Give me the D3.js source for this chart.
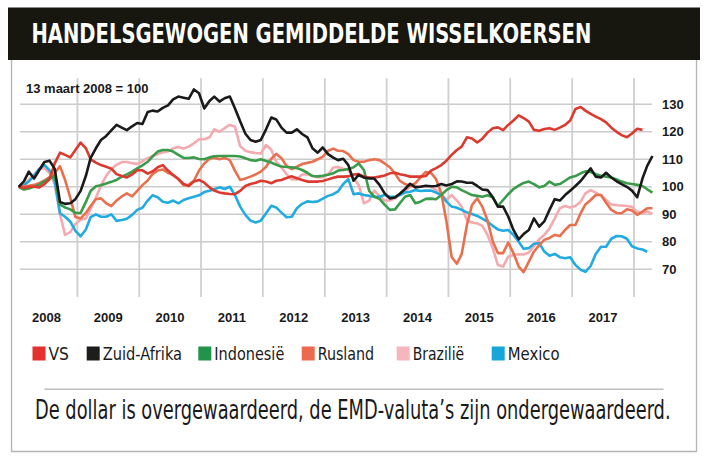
<!DOCTYPE html>
<html>
<head>
<meta charset="utf-8">
<script src="https://cdn.jsdelivr.net/npm/d3@7"></script>
<style>
  html, body { margin: 0; padding: 0; background: #fff; }
  svg { display: block; }
  .narrow { font-family: "Liberation Sans Narrow", "DejaVu Sans Condensed", "Roboto Condensed", sans-serif; }
  .bold { font-family: "Liberation Sans", Arial, sans-serif; font-weight: bold; }
</style>
</head>
<body>
<svg id="chart" width="707" height="463"></svg>
<script>
// Handelsgewogen wisselkoersen, index 13 maart 2008 = 100, maandelijkse waarden
var startMonth = new Date(2008, 0, 20);

var seriesNames = ['VS', 'Zuid-Afrika', 'Indonesië', 'Rusland', 'Brazilië', 'Mexico'];
var years = [2008, 2009, 2010, 2011, 2012, 2013, 2014, 2015, 2016, 2017];
var yTicks = [70, 80, 90, 100, 110, 120, 130];

var vs = [100, 99.6, 100, 100, 99.8, 101, 102.7, 108.5, 112.4, 111.6, 110.7, 113.4, 116.1, 114, 110, 108.8, 107.9, 107.3, 106.6, 104.6,
  103.9, 103.4, 104.5, 106, 106, 104.8, 105.6, 107.1, 107.9, 105.9, 104.3, 102.8, 101, 100.3, 101.9, 102.5, 101.5, 99.8, 98.6, 97.9,
  97.6, 97.4, 97.3, 98.5, 100.3, 101, 101.5, 102.2, 101.9, 101.3, 102.2, 102.5, 103.2, 103.8, 103.1, 102.5, 101.9, 101.9, 101.9, 102.1,
  102.7, 103.3, 103.7, 103.7, 103.8, 104.5, 104.6, 103.7, 103.4, 103.4, 103.7, 104.1, 104.9, 105.1, 104.6, 104.2, 103.7, 103.7, 103.7, 103.9,
  105.9, 106.8, 107.9, 109.5, 111.6, 113.4, 114.6, 118, 117.6, 116.1, 117.5, 119.7, 121.3, 121.6, 120.6, 122.5, 124.1, 126, 125, 123.7,
  120.7, 120.4, 121, 121.3, 120.7, 121.5, 122.5, 124.1, 128.3, 129, 127.7, 126.5, 125.5, 124.6, 123.4, 121.5, 120, 118.8, 118, 119.4,
  121.1, 120.7, null, null];

var zuidAfrika = [100, 102, 105.5, 103, 106, 109, 109.5, 106.5, 94.5, 93.8, 94, 95.5, 98.5, 104, 110.5, 114, 117, 118.5, 120.5, 122.5,
  121.5, 120.6, 122, 123.2, 122.8, 127.2, 127.7, 127.4, 128.7, 129.6, 131.8, 132.8, 132.4, 132, 135.4, 134, 128.5, 131.2, 132.8, 131,
  132.2, 132.8, 128.6, 123.8, 119.3, 117, 116.4, 117, 120.9, 125.2, 124.5, 121.5, 119.7, 119.7, 120.9, 119.2, 118, 114, 112.4, 114.3,
  111.9, 110.6, 109.7, 110.2, 107.9, 102.2, 104.3, 103.4, 103, 103, 100.7, 97.6, 95.8, 96.1, 97.5, 99.2, 101.1, 99.8, 100, 100.4,
  100.2, 100.3, 101, 100.5, 101, 102, 101.9, 101.5, 101.5, 100.3, 99, 98.8, 96.2, 92.8, 92.8, 89.2, 84.3, 80.9, 82.8, 84.3,
  88.5, 85.5, 87.4, 91.6, 95.5, 95, 97, 98.6, 100.3, 102.1, 104.3, 106.7, 103.7, 103.4, 105.1, 103.4, 102, 101, 100, 98.6,
  96.2, 103, 107.6, 111.2];

var indonesie = [100, 99, 99.4, 100, 100.8, 102, 103, 104, 93.5, 92.5, 91.8, 90.5, 90.5, 94.5, 98.5, 100.2, 100.6, 101.2, 101.8, 102.5,
  103.7, 104.5, 105.5, 106.7, 107.8, 109.1, 111, 112.8, 113.4, 113.4, 112.8, 111.6, 110.5, 110.5, 110.7, 110.1, 110, 110.7, 111.1, 111.2,
  111.2, 111.2, 111.2, 111, 110.4, 109.7, 109.5, 110, 109.4, 108.8, 108, 107.4, 107.2, 107.1, 106.8, 106.1, 105.1, 103.9, 103.8, 104,
  104.4, 104.9, 105.9, 106.1, 106.5, 107.1, 108.5, 106.1, 98.5, 96.4, 95.6, 93.5, 91.6, 91.8, 94, 96.4, 97, 94, 94.6, 95.6,
  95.7, 95.5, 97, 98.8, 100, 99.8, 98.8, 97.9, 97, 96.7, 96.4, 96.9, 96.2, 93, 95.2, 97.3, 99.2, 100.4, 101.4, 101.9,
  101, 99.8, 100.3, 101.9, 100.7, 101, 102.2, 103.4, 103.9, 104.9, 105.6, 105.4, 104.6, 104, 103.7, 103.4, 102.7, 101.9, 101.3, 101,
  100.7, 100.3, 99.1, 97.9];

var rusland = [100, 100.2, 100.4, 100.7, 101.3, 102.3, 103.5, 105, 107.5, 102.5, 96, 89, 88.5, 90.5, 93, 95.5, 95.8, 94, 93, 95,
  96.5, 97.6, 96.5, 98.5, 100.6, 102.3, 104.6, 105.9, 106.3, 105.1, 104.3, 102.8, 100.6, 100.7, 102.2, 105.9, 108.5, 110.2, 110.6, 110,
  110.5, 109.7, 105.9, 102.5, 103, 103.7, 104.5, 105.5, 107.3, 110.2, 112, 110.4, 107.6, 106.4, 107.3, 108.3, 108.7, 109.1, 110, 111,
  113.1, 113.9, 113.1, 113, 111.9, 109.7, 109.1, 109.1, 109.7, 110, 109.7, 108.5, 107.1, 104.8, 102.2, 101, 100.3, 101.3, 103.4, 105.4,
  105.1, 102.8, 97.6, 87.5, 74.5, 72, 75.5, 86, 93.4, 95.8, 92.8, 87.7, 80.1, 75.9, 75.9, 79.7, 75.9, 71, 69, 72.8,
  76.4, 78.8, 80.7, 81.4, 82.5, 82.1, 84.3, 86.1, 86.1, 90.4, 93.6, 95.2, 97, 97, 94.2, 91.6, 90.5, 90.4, 91.8, 91.4,
  89.8, 91, 92.2, 92.2];

var brazilie = [100, 100.6, 102.5, 104.5, 106.5, 106.8, 105, 101, 90, 82.5, 83.5, 86.5, 88, 88.5, 92, 96, 100.5, 104, 106.5, 108,
  109, 109, 108.6, 108.3, 109.3, 110.4, 111.1, 111.9, 112.5, 112.9, 114, 114.5, 113.9, 114.6, 115.8, 117.3, 117.3, 118, 120.9, 120,
  121.3, 122.5, 121.9, 114.8, 113.1, 112.6, 112.3, 112.1, 115.2, 113.5, 109.1, 107, 104.6, 102.7, 102.7, 104.5, 104.5, 104, 103.5, 103.5,
  104.5, 107, 107.2, 106.6, 106.1, 103.1, 100.7, 94, 95, 98.6, 96.7, 95, 95, 95.8, 97.2, 98.5, 100, 100.2, 100.2, 100.2,
  100, 98.8, 97.4, 95.2, 97, 95, 92.8, 87.9, 87, 86.7, 85.8, 82.5, 77.6, 71.6, 71, 74.6, 75.2, 75.5, 75.4, 76.1,
  78.5, 80.9, 82.5, 84.9, 88.5, 92.2, 93, 92.5, 93, 94.6, 97.6, 98.8, 97.9, 96.9, 95.2, 93.6, 93.3, 93.2, 93, 92.7,
  90.9, 90.4, 91, 90.1];

var mexico = [100, 100.5, 102, 104, 106.5, 108, 106, 102, 90.4, 89.1, 87.3, 84, 82, 84.5, 89, 90, 89.1, 89.1, 90, 87.6,
  87.9, 88.4, 89.8, 91.6, 92.4, 95, 96.9, 96.2, 94.6, 94.2, 95, 94, 95.2, 95.8, 96.4, 96.9, 98.1, 98.6, 99.1, 99.8,
  99.2, 100, 97, 92.8, 89.8, 87.7, 87, 87.7, 90.4, 93.1, 92.5, 90.6, 88.9, 89.1, 92.2, 93.8, 94.7, 94.5, 94.7, 95.7,
  96.7, 97.3, 98.3, 101, 102.8, 97.3, 97.6, 97, 96.7, 96.4, 96.4, 97, 96.4, 96.4, 97, 97.9, 98.2, 98.8, 98.5, 98.6,
  98.6, 97.9, 97, 94.6, 92.8, 92.4, 91.6, 90.7, 90.1, 89.4, 88.4, 87.3, 85.8, 84.5, 84, 84.3, 82.5, 80, 77.5, 77.7,
  79.3, 79.5, 76.5, 74.9, 75.6, 74.4, 74, 74.4, 71.6, 69.8, 69.1, 71.2, 75.6, 78.2, 78.2, 81.1, 82.1, 82, 81.1, 78.4,
  77.6, 77.2, 76.4, null];

var seriesValues = [vs, zuidAfrika, indonesie, rusland, brazilie, mexico];
var lineColors = ['#dc3a2f', '#1a1a1a', '#3a9b4b', '#e9704f', '#f3aab0', '#22abe0'];
var swatchColors = ['#e4312e', '#1d1d1b', '#22934a', '#ec6a4e', '#f6b6bc', '#17a6dc'];
var drawOrder = [4, 5, 3, 2, 0, 1];

var svg = d3.select('#chart');

// tekst horizontaal op een vaste breedte brengen (smal lettertype ontbreekt)
function fitWidth(sel, width) {
  sel.each(function(d, i) {
    var node = this;
    var w = typeof width === 'function' ? width(d, i) : width;
    var natural = node.getComputedTextLength();
    var x0 = +node.getAttribute('x');
    var k = w / natural;
    node.setAttribute('transform', 'translate(' + x0 + ',0) scale(' + k + ',1) translate(' + (-x0) + ',0)');
  });
}

// titelbalk en kader
svg.append('rect').attr('x', 8).attr('y', 7.5).attr('width', 692).attr('height', 52.5).attr('fill', '#17170f');
svg.append('text')
  .attr('class', 'narrow')
  .attr('x', 31.5).attr('y', 43)
  .attr('font-size', 26).attr('font-weight', 'bold').attr('fill', '#fff')
  .text('HANDELSGEWOGEN GEMIDDELDE WISSELKOERSEN')
  .call(fitWidth, 560);
svg.append('path')
  .attr('d', 'M11.5,60 V451.5 H696.5 V60')
  .attr('fill', 'none').attr('stroke', '#b4b4b4').attr('stroke-width', 1.3);

// schalen
var x = d3.scaleTime()
  .domain([new Date(2008, 0, 1), new Date(2018, 0, 1)])
  .range([15.45, 634]);
var y = d3.scaleLinear().domain([70, 130]).range([269.3, 104.3]);
var dates = seriesValues[0].map(function(d, i) { return d3.timeMonth.offset(startMonth, i); });

var g = svg.append('g');

// rasterlijnen
g.selectAll('.hgrid')
  .data(yTicks)
  .enter().append('line')
  .attr('x1', 20).attr('x2', 652)
  .attr('y1', function(d) { return y(d); })
  .attr('y2', function(d) { return y(d); })
  .attr('stroke', '#cbcbcb').attr('stroke-width', 1.5);

var yearStarts = x.ticks(d3.timeYear.every(1)).filter(function(d) { return d.getFullYear() > 2008; });
g.selectAll('.vgrid')
  .data(yearStarts)
  .enter().append('line')
  .attr('x1', function(d) { return x(d); })
  .attr('x2', function(d) { return x(d); })
  .attr('y1', 78.3).attr('y2', 297)
  .attr('stroke', '#cfcfcf').attr('stroke-width', 1.8);

// as-labels
g.selectAll('.ylab')
  .data(yTicks)
  .enter().append('text')
  .attr('class', 'bold')
  .attr('x', 662).attr('y', function(d) { return y(d) + 4.4; })
  .attr('font-size', 13).attr('fill', '#1a1a1a')
  .text(function(d) { return d; });

g.selectAll('.xlab')
  .data(years)
  .enter().append('text')
  .attr('class', 'bold')
  .attr('x', function(d) { return x(new Date(d, 6, 2)); })
  .attr('y', 322)
  .attr('text-anchor', 'middle')
  .attr('font-size', 13).attr('fill', '#1a1a1a')
  .text(function(d) { return d; });

svg.append('text')
  .attr('class', 'bold')
  .attr('x', 26).attr('y', 92.7)
  .attr('font-size', 13).attr('fill', '#1a1a1a')
  .text('13 maart 2008 = 100');

// lijnen
var line = d3.line()
  .defined(function(d) { return d != null; })
  .x(function(d, i) { return x(dates[i]); })
  .y(function(d) { return y(d); });

g.selectAll('.serie')
  .data(drawOrder)
  .enter().append('path')
  .attr('fill', 'none')
  .attr('stroke', function(k) { return lineColors[k]; })
  .attr('stroke-width', 2.6)
  .attr('stroke-linejoin', 'round')
  .attr('d', function(k) { return line(seriesValues[k]); });

// legenda
var legendX = [32.5, 86.7, 198.3, 301.7, 396.7, 491.7];
var legendTextWidth = [20.5, 79.5, 70, 56.5, 51.5, 52];
var legend = svg.selectAll('.legend')
  .data(seriesNames)
  .enter().append('g')
  .attr('transform', function(d, i) { return 'translate(' + legendX[i] + ',346.5)'; });
legend.append('rect')
  .attr('width', 13).attr('height', 14)
  .attr('fill', function(d, i) { return swatchColors[i]; });
legend.append('text')
  .attr('class', 'narrow')
  .attr('x', 16).attr('y', 13.8)
  .attr('font-size', 18.5).attr('fill', '#1a1a1a')
  .text(function(d) { return d; })
  .call(fitWidth, function(d, i) { return legendTextWidth[i]; });

// scheidingslijn en onderschrift
svg.append('line')
  .attr('x1', 44.5).attr('x2', 663.5).attr('y1', 389.3).attr('y2', 389.3)
  .attr('stroke', '#bdbdbd').attr('stroke-width', 1.5);
svg.append('text')
  .attr('class', 'narrow')
  .attr('x', 35).attr('y', 419)
  .attr('font-size', 26).attr('fill', '#1a1a1a')
  .text('De dollar is overgewaardeerd, de EMD-valuta’s zijn ondergewaardeerd.')
  .call(fitWidth, 636);
</script>
</body>
</html>
